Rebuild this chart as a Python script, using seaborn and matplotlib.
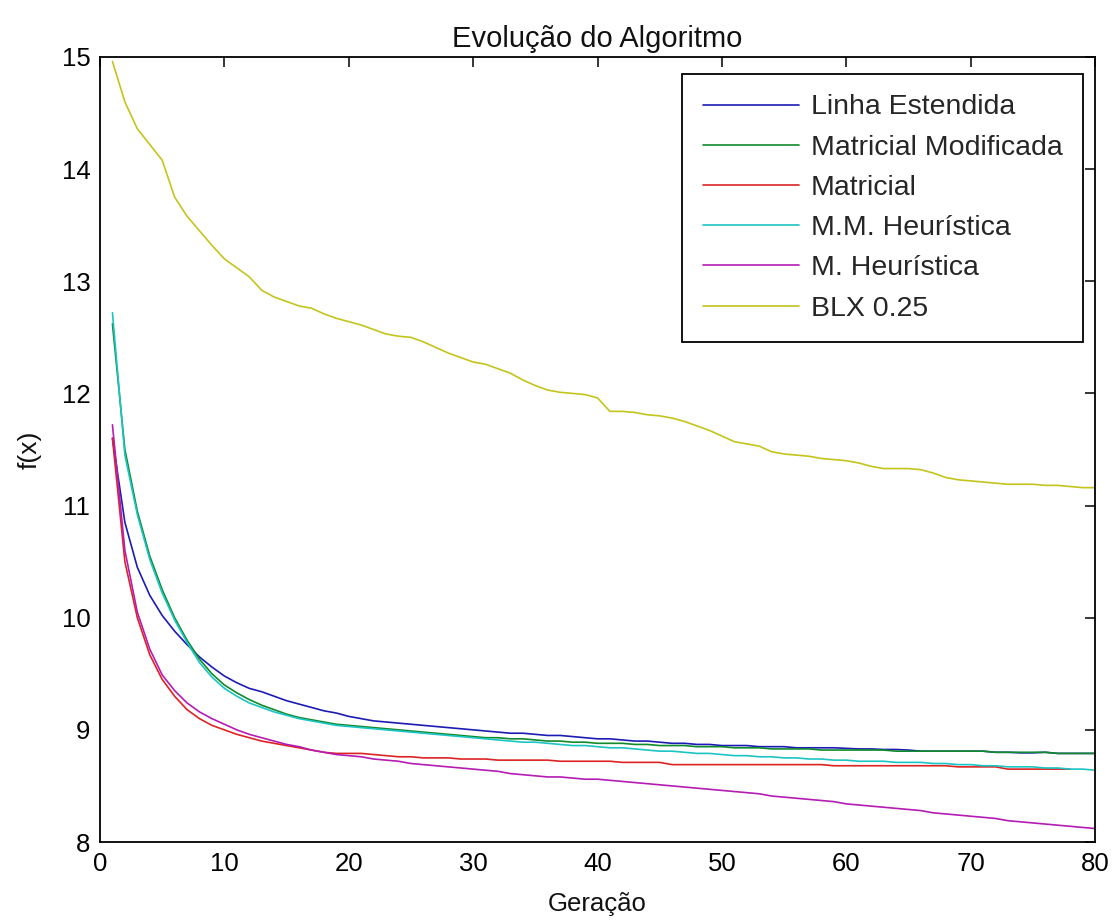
import numpy as np
import pandas as pd
import matplotlib
matplotlib.use("Agg")
import matplotlib.pyplot as plt
import seaborn as sns

# ---------------- data ----------------
series_names = ["Linha Estendida", "Matricial Modificada", "Matricial",
                "M.M. Heurística", "M. Heurística", "BLX 0.25"]

gen_80 = list(range(1, 81))
gen_78 = list(range(1, 79))

linha_estendida = [11.6, 10.85, 10.45, 10.2, 10.02, 9.88, 9.76, 9.65, 9.56, 9.48,
                   9.42, 9.37, 9.34, 9.30, 9.26, 9.23, 9.20, 9.17, 9.15, 9.12,
                   9.10, 9.08, 9.07, 9.06, 9.05, 9.04, 9.03, 9.02, 9.01, 9.00,
                   8.99, 8.98, 8.97, 8.97, 8.96, 8.95, 8.95, 8.94, 8.93, 8.92,
                   8.92, 8.91, 8.90, 8.90, 8.89, 8.88, 8.88, 8.87, 8.87, 8.86,
                   8.86, 8.86, 8.85, 8.85, 8.85, 8.84, 8.84, 8.84, 8.84, 8.835,
                   8.83, 8.83, 8.825, 8.825, 8.82, 8.81, 8.81, 8.81, 8.81, 8.81,
                   8.81, 8.80, 8.80, 8.795, 8.795, 8.80, 8.79, 8.79, 8.79, 8.79]

matricial_modificada = [12.62, 11.5, 10.95, 10.55, 10.25, 10.0, 9.8, 9.63, 9.5, 9.4,
                        9.33, 9.27, 9.22, 9.18, 9.14, 9.11, 9.09, 9.07, 9.05, 9.04,
                        9.03, 9.02, 9.01, 9.00, 8.99, 8.98, 8.97, 8.96, 8.95, 8.94,
                        8.93, 8.93, 8.92, 8.92, 8.91, 8.90, 8.90, 8.89, 8.89, 8.88,
                        8.88, 8.88, 8.87, 8.87, 8.86, 8.86, 8.86, 8.85, 8.85, 8.85,
                        8.84, 8.84, 8.84, 8.83, 8.83, 8.83, 8.83, 8.82, 8.82, 8.82,
                        8.82, 8.82, 8.82, 8.81, 8.81, 8.81, 8.81, 8.81, 8.81, 8.81,
                        8.81, 8.80, 8.80, 8.80, 8.80, 8.80, 8.79, 8.79, 8.79, 8.79]

matricial = [11.6, 10.5, 10.0, 9.67, 9.45, 9.3, 9.18, 9.1, 9.04, 9.0,
             8.96, 8.93, 8.90, 8.88, 8.86, 8.84, 8.82, 8.80, 8.79, 8.79,
             8.79, 8.78, 8.77, 8.76, 8.76, 8.75, 8.75, 8.75, 8.74, 8.74,
             8.74, 8.73, 8.73, 8.73, 8.73, 8.73, 8.72, 8.72, 8.72, 8.72,
             8.72, 8.71, 8.71, 8.71, 8.71, 8.69, 8.69, 8.69, 8.69, 8.69,
             8.69, 8.69, 8.69, 8.69, 8.69, 8.69, 8.69, 8.69, 8.68, 8.68,
             8.68, 8.68, 8.68, 8.68, 8.68, 8.68, 8.68, 8.68, 8.67, 8.67,
             8.67, 8.67, 8.65, 8.65, 8.65, 8.65, 8.65, 8.65]

mm_heuristica = [12.72, 11.45, 10.92, 10.52, 10.22, 9.98, 9.78, 9.6, 9.47, 9.37,
                 9.30, 9.24, 9.20, 9.16, 9.13, 9.10, 9.08, 9.06, 9.04, 9.03,
                 9.02, 9.01, 9.00, 8.99, 8.98, 8.97, 8.96, 8.95, 8.94, 8.93,
                 8.92, 8.91, 8.90, 8.89, 8.89, 8.88, 8.87, 8.86, 8.86, 8.85,
                 8.84, 8.84, 8.83, 8.82, 8.81, 8.81, 8.80, 8.79, 8.79, 8.78,
                 8.77, 8.77, 8.76, 8.76, 8.75, 8.75, 8.74, 8.74, 8.73, 8.73,
                 8.72, 8.72, 8.72, 8.71, 8.71, 8.71, 8.70, 8.70, 8.69, 8.69,
                 8.68, 8.68, 8.67, 8.67, 8.67, 8.66, 8.66, 8.65, 8.65, 8.64]

m_heuristica = [11.72, 10.6, 10.05, 9.72, 9.49, 9.35, 9.24, 9.16, 9.1, 9.05,
                9.00, 8.96, 8.93, 8.90, 8.87, 8.85, 8.82, 8.80, 8.78, 8.77,
                8.76, 8.74, 8.73, 8.72, 8.70, 8.69, 8.68, 8.67, 8.66, 8.65,
                8.64, 8.63, 8.61, 8.60, 8.59, 8.58, 8.58, 8.57, 8.56, 8.56,
                8.55, 8.54, 8.53, 8.52, 8.51, 8.50, 8.49, 8.48, 8.47, 8.46,
                8.45, 8.44, 8.43, 8.41, 8.40, 8.39, 8.38, 8.37, 8.36, 8.34,
                8.33, 8.32, 8.31, 8.30, 8.29, 8.28, 8.26, 8.25, 8.24, 8.23,
                8.22, 8.21, 8.19, 8.18, 8.17, 8.16, 8.15, 8.14, 8.13, 8.12]

blx_025 = [14.96, 14.6, 14.36, 14.22, 14.08, 13.75, 13.58, 13.45, 13.32, 13.2,
           13.12, 13.04, 12.92, 12.86, 12.82, 12.78, 12.76, 12.71, 12.67, 12.64,
           12.61, 12.57, 12.53, 12.51, 12.50, 12.46, 12.41, 12.36, 12.32, 12.28,
           12.26, 12.22, 12.18, 12.12, 12.07, 12.03, 12.01, 12.00, 11.99, 11.96,
           11.84, 11.84, 11.83, 11.81, 11.80, 11.78, 11.75, 11.71, 11.67, 11.62,
           11.57, 11.55, 11.53, 11.48, 11.46, 11.45, 11.44, 11.42, 11.41, 11.40,
           11.38, 11.35, 11.33, 11.33, 11.33, 11.32, 11.29, 11.25, 11.23, 11.22,
           11.21, 11.20, 11.19, 11.19, 11.19, 11.18, 11.18, 11.17, 11.16, 11.16]

x_ticks = [0, 10, 20, 30, 40, 50, 60, 70, 80]
y_ticks = [8, 9, 10, 11, 12, 13, 14, 15]

series_values = [linha_estendida, matricial_modificada, matricial,
                 mm_heuristica, m_heuristica, blx_025]
series_gens = [gen_80, gen_80, gen_78, gen_80, gen_80, gen_80]

colors = ["#1c1cb4", "#108a2c", "#dc2424", "#1cc4c4", "#b41cb4", "#c4c41c"]

frames = []
for name, gens, vals in zip(series_names, series_gens, series_values):
    frames.append(pd.DataFrame({"Geração": gens, "f(x)": vals, "Série": name}))
df = pd.concat(frames, ignore_index=True)

# ---------------- plot ----------------
sns.set_theme(style="white")
plt.rcParams["font.family"] = ["Liberation Sans", "DejaVu Sans"]

fig = plt.figure(figsize=(11.14, 9.24), dpi=100)
ax = fig.add_axes([100 / 1114, 1 - 842 / 924, 995 / 1114, 785 / 924])

sns.lineplot(data=df, x="Geração", y="f(x)", hue="Série", hue_order=series_names,
             palette=dict(zip(series_names, colors)), linewidth=1.2,
             estimator=None, sort=False, ax=ax)

ax.set_xlim(0, 80)
ax.set_ylim(8, 15)
ax.set_xticks(x_ticks)
ax.set_yticks(y_ticks)
ax.tick_params(direction="in", length=7, width=1.1, top=True, right=True,
               labelsize=18.5, pad=7, colors="black")
for s in ax.spines.values():
    s.set_visible(True)
    s.set_color("black")
    s.set_linewidth(1.3)

ax.set_title("Evolução do Algoritmo", fontsize=21, pad=7, color="#111111")
ax.set_xlabel("Geração", fontsize=18.5, labelpad=12, color="#111111")
ax.set_ylabel("f(x)", fontsize=19, labelpad=14, color="#111111")

leg = ax.legend(loc="upper right", bbox_to_anchor=(983 / 995, 1 - 17 / 785),
                fontsize=20.5, frameon=True, fancybox=False, framealpha=1,
                edgecolor="black", handlelength=3.4, handletextpad=0.4,
                borderpad=0.72, labelspacing=0.5, borderaxespad=0)
leg.get_frame().set_linewidth(1.3)
for h in leg.get_lines():
    h.set_linewidth(1.2)

fig.savefig("out.png", dpi=100)
